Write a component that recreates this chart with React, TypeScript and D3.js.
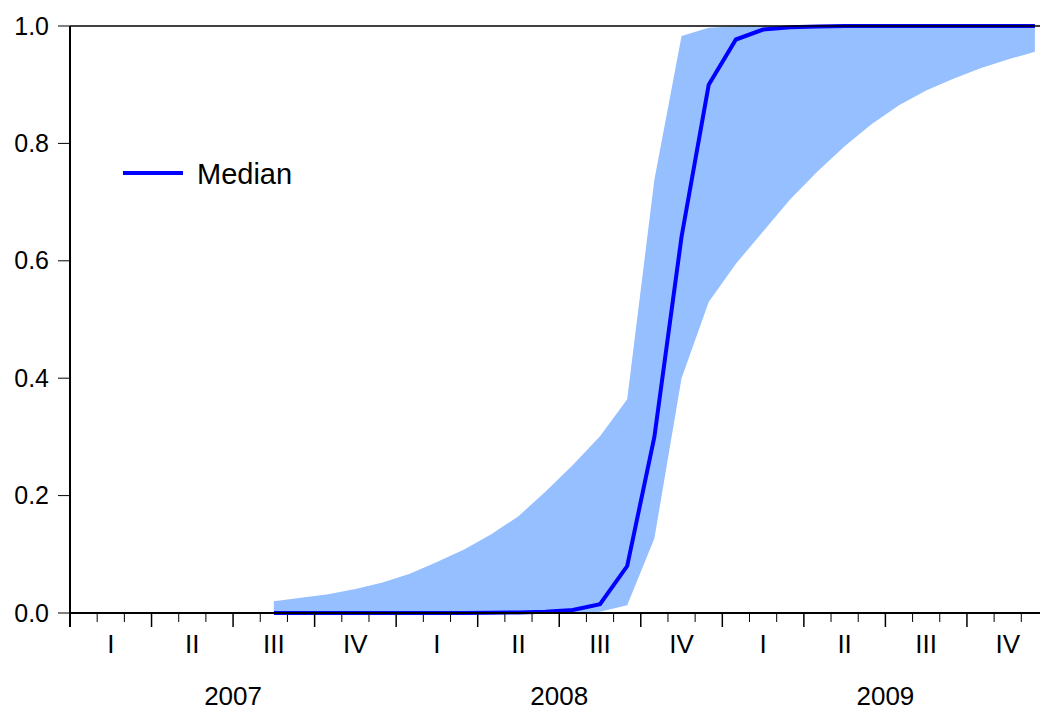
import { useEffect, useRef } from 'react';
import * as d3 from 'd3';

// monthly observations, 2007M01 .. 2009M12; series start at 2007M08 (index 7)
const years = ['2007', '2008', '2009'];
const quarterLabels = ['I', 'II', 'III', 'IV'];
const startMonth = 7;

const median = [
  0, 0, 0, 0, 0, 0, 0, 0, 0.0005, 0.001, 0.002, 0.005, 0.015, 0.08, 0.3, 0.641, 0.9, 0.977, 0.994,
  0.998, 0.999, 1, 1, 1, 1, 1, 1, 1, 1,
];

const upper = [
  0.02, 0.026, 0.032, 0.041, 0.052, 0.067, 0.087, 0.108, 0.134, 0.165, 0.207, 0.252, 0.301, 0.364,
  0.738, 0.983, 0.997, 0.9995, 1, 1, 1, 1, 1, 1, 1, 1, 1, 1, 1,
];

const lower = [
  0, 0, 0, 0, 0, 0, 0, 0, 0, 0, 0, 0, 0.002, 0.013, 0.127, 0.4, 0.53, 0.595, 0.65, 0.705, 0.752,
  0.795, 0.833, 0.865, 0.89, 0.91, 0.928, 0.943, 0.956,
];

const yTicks = [0, 0.2, 0.4, 0.6, 0.8, 1.0];

export default function App() {
  const ref = useRef<HTMLDivElement>(null);

  useEffect(() => {
    if (!ref.current) return;
    const root = d3.select(ref.current);
    root.selectAll('*').remove();

    const width = 1040;
    const height = 713;
    const left = 70;
    const top = 26;
    const bottom = 613;
    const monthW = 27.18;
    const font = 'Arial, "Liberation Sans", sans-serif';

    const svg = root
      .append('svg')
      .attr('width', width)
      .attr('height', height)
      .style('display', 'block')
      .style('background', '#fff');

    const x = d3.scaleLinear().domain([0, 36]).range([left, left + 36 * monthW]);
    const y = d3.scaleLinear().domain([0, 1]).range([bottom, top]);

    const rows = median.map((m, i) => ({
      t: startMonth + i + 0.5,
      m,
      lo: lower[i],
      hi: upper[i],
    }));

    const area = d3
      .area<(typeof rows)[number]>()
      .x((d) => x(d.t))
      .y0((d) => y(d.lo))
      .y1((d) => y(d.hi));

    svg.append('path').datum(rows).attr('d', area).attr('fill', '#96bfff');

    const line = d3
      .line<(typeof rows)[number]>()
      .x((d) => x(d.t))
      .y((d) => y(d.m));

    svg
      .append('path')
      .datum(rows)
      .attr('d', line)
      .attr('fill', 'none')
      .attr('stroke', '#0000ff')
      .attr('stroke-width', 4)
      .attr('stroke-linejoin', 'miter');

    // frame: top and left, bottom axis
    svg
      .append('line')
      .attr('x1', left)
      .attr('x2', width)
      .attr('y1', top)
      .attr('y2', top)
      .attr('stroke', '#000')
      .attr('stroke-width', 1.5);
    svg
      .append('line')
      .attr('x1', left)
      .attr('x2', left)
      .attr('y1', top)
      .attr('y2', 627)
      .attr('stroke', '#000')
      .attr('stroke-width', 2);
    svg
      .append('line')
      .attr('x1', left)
      .attr('x2', width)
      .attr('y1', bottom)
      .attr('y2', bottom)
      .attr('stroke', '#000')
      .attr('stroke-width', 2);

    // y ticks
    yTicks.forEach((v) => {
      svg
        .append('line')
        .attr('x1', left - 12)
        .attr('x2', left)
        .attr('y1', y(v))
        .attr('y2', y(v))
        .attr('stroke', '#000')
        .attr('stroke-width', 1);
      svg
        .append('text')
        .attr('x', 49)
        .attr('y', y(v) + 8.5)
        .attr('text-anchor', 'end')
        .style('font-family', font)
        .style('font-size', '25px')
        .style('fill', '#000')
        .text(d3.format('.1f')(v));
    });

    // x ticks: months minor, quarters major
    d3.range(0, 37).forEach((k) => {
      const major = k % 3 === 0;
      svg
        .append('line')
        .attr('x1', x(k))
        .attr('x2', x(k))
        .attr('y1', bottom)
        .attr('y2', major ? 627 : 622)
        .attr('stroke', '#000')
        .attr('stroke-width', major ? 1.5 : 1);
    });

    years.forEach((yr, yi) => {
      quarterLabels.forEach((q, qi) => {
        const k = yi * 12 + qi * 3 + 1.5;
        svg
          .append('text')
          .attr('x', x(k))
          .attr('y', 653)
          .attr('text-anchor', 'middle')
          .style('font-family', font)
          .style('font-size', '26px')
          .style('fill', '#000')
          .text(q);
      });
      svg
        .append('text')
        .attr('x', x(yi * 12 + 6))
        .attr('y', 705)
        .attr('text-anchor', 'middle')
        .style('font-family', font)
        .style('font-size', '26px')
        .style('fill', '#000')
        .text(yr);
    });

    // legend
    svg
      .append('line')
      .attr('x1', 123)
      .attr('x2', 183)
      .attr('y1', 173)
      .attr('y2', 173)
      .attr('stroke', '#0000ff')
      .attr('stroke-width', 4);
    svg
      .append('text')
      .attr('x', 197)
      .attr('y', 184)
      .style('font-family', font)
      .style('font-size', '29px')
      .style('fill', '#000')
      .text('Median');

    return () => {
      root.selectAll('*').remove();
    };
  }, []);

  return <div ref={ref} style={{ position: 'absolute', left: 0, top: 0 }} />;
}
